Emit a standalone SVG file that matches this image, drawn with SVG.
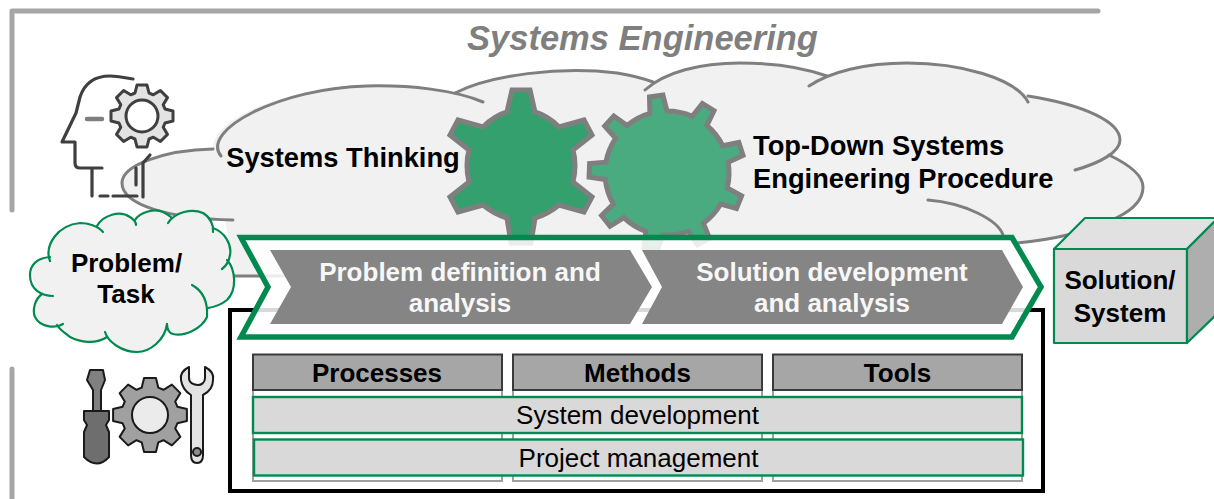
<svg xmlns="http://www.w3.org/2000/svg" xmlns:xlink="http://www.w3.org/1999/xlink" width="1214" height="499" viewBox="0 0 1214 499">
<style>
.t{font-family:"Liberation Sans",Arial,sans-serif;text-anchor:middle}
.b{font-weight:700;fill:#000;font-size:26px}
.l{font-weight:700;fill:#000;font-size:27.3px}
.w{font-weight:700;fill:#f7f7f7;font-size:26px}
.n{fill:#000;font-size:26px}
.lob{fill:none;stroke:#7f7f7f;stroke-width:3;stroke-linecap:round}
.cl{fill:none;stroke:#008a50;stroke-width:2.2;stroke-linecap:round}
.hd{fill:#a6a6a6;stroke:#3a3a3a;stroke-width:2}
.col{fill:#fff;stroke:#a0a0a0;stroke-width:2}
.row{fill:#d9d9d9;stroke:#008a50;stroke-width:2.4}
.ic{fill:none;stroke:#3f3f3f;stroke-width:3.2;stroke-linecap:round;stroke-linejoin:round}
.to{stroke:#1a1a1a;stroke-width:2;stroke-linejoin:round}
.cube{stroke:#008a50;stroke-width:2.2;stroke-linejoin:round}
</style>
<defs>
<path id="cog" d="M-7-23L-5-31H5L7-23L11.3-21.2L18.4-25.5L25.5-18.4L21.2-11.3L23-7L31-5V5L23 7L21.2 11.3L25.5 18.4L18.4 25.5L11.3 21.2L7 23L5 31H-5L-7 23L-11.3 21.2L-18.4 25.5L-25.5 18.4L-21.2 11.3L-23 7L-31 5V-5L-23-7L-21.2-11.3L-25.5-18.4L-18.4-25.5L-11.3-21.2Z"/>
</defs>
<g id="frame"><path d="M1098 11H12V210M12 369V499" fill="none" stroke="#a6a6a6" stroke-width="5" stroke-linecap="round" stroke-linejoin="round"/></g>
<text class="t" x="642.500" y="50" font-size="34.500" font-weight="700" font-style="italic" fill="#7f7f7f">Systems Engineering</text>
<g id="big-cloud">
<path d="M122 183C122 165 165 150 213 149C212 120 280 88 367 86C400 85 430 88 455 93C490 75 560 66 617 73C630 75 642 78 653 82C675 68 710 62 740 63C775 63 805 68 827 76C855 66 880 63 907 63C960 63 1005 75 1028 96C1085 105 1120 122 1120 140C1120 146 1116 151 1109 155C1130 165 1143 175 1143 187C1143 200 1132 210 1118 217C1090 232 1050 240 1017 243L1000 276H235L225 220C170 218 122 205 122 183Z" fill="#f1f1f1"/>
<path class="lob" d="M233 220C170 219 122 205 122 183C122 165 165 150 213 149"/>
<path class="lob" d="M221 156C200 130 280 88 367 86C410 85 455 90 483 102"/>
<path class="lob" d="M455 93C490 75 560 66 617 73C630 75 642 78 653 82"/>
<path class="lob" d="M645 90C665 72 700 63 740 63C775 63 805 68 827 76"/>
<path class="lob" d="M809 86C830 72 865 63 907 63C960 63 1015 78 1028 102"/>
<path class="lob" d="M1028 96C1085 105 1120 122 1120 140C1120 152 1100 163 1075 170"/>
<path class="lob" d="M1109 155C1130 165 1143 175 1143 187C1143 200 1132 210 1118 217C1090 232 1050 240 1017 243"/>
<path class="lob" d="M928 200C965 203 998 220 1003 235"/>
<path class="lob" d="M233 276H290"/>
</g>
<g id="gear-1"><path d="M512 90H530L535 112Q548 116 559 127L584 120L592 135L573 150Q577 165 573 182L592 197L584 212L559 205Q548 214 535 218L531 243H511L507 218Q494 214 483 205L458 212L450 197L469 182Q465 165 469 150L450 135L458 120L483 127Q494 116 507 112Z" fill="#33a06e" stroke="#7f7f7f" stroke-width="5" stroke-linejoin="miter"/></g>
<g id="gear-2"><path d="M722.700 145.800L738.800 142.500L743 155.500L728.100 162.200A62 62 0 0 1 727.200 188L741.600 195.800L736.500 208.400L720.700 204A62 62 0 0 1 703.400 223.200L709.500 238.400L697.500 244.800L688.200 231.300A62 62 0 0 1 662.700 234.900L657.500 250.400L644.200 247.600L645.800 231.300A62 62 0 0 1 623.900 217.600L610 226.200L601.600 215.500L613.300 204A62 62 0 0 1 605.300 179.500L589.100 177.100L589.600 163.500L605.900 162.200A62 62 0 0 1 615.600 138.300L604.700 126L613.800 116L627.100 125.500A62 62 0 0 1 649.900 113.400L649.500 97L662.900 95.100L667 111A62 62 0 0 1 692.200 116.300L702.400 103.500L714 110.700L706.900 125.500A62 62 0 0 1 722.700 145.800Z" fill="#4aab80" stroke="#7f7f7f" stroke-width="5"/></g>
<text class="t l" x="343" y="167">Systems Thinking</text>
<text class="t l" x="753" y="155" style="text-anchor:start">Top-Down Systems</text>
<text class="t l" x="753" y="188" style="text-anchor:start">Engineering Procedure</text>
<g id="box"><rect x="230" y="310" width="813" height="181" fill="#fff" stroke="#000" stroke-width="4"/></g>
<g id="chevron"><path d="M241 237.500H1012L1041 287L1012 337H241L268 287Z" fill="#fff" fill-opacity=".85" stroke="#008a50" stroke-width="5.500"/>
<path d="M270 250H630L652 287L630 324H270L291 287Z" fill="#858585"/>
<path d="M642 250H1002L1023 287L1002 324H642L662 287Z" fill="#858585"/></g>
<text class="t w" x="460" y="281">Problem definition and</text>
<text class="t w" x="460" y="312">analysis</text>
<text class="t w" x="832" y="281">Solution development</text>
<text class="t w" x="832" y="312">and analysis</text>
<g id="table">
<rect class="col" x="253" y="390" width="249" height="91"/><rect class="col" x="513" y="390" width="249" height="91"/><rect class="col" x="773" y="390" width="249" height="91"/>
<rect class="hd" x="253" y="354.500" width="249" height="35.500"/><rect class="hd" x="513" y="354.500" width="249" height="35.500"/><rect class="hd" x="773" y="354.500" width="249" height="35.500"/>
<rect class="row" x="253" y="397" width="769" height="36"/><rect class="row" x="254" y="439.500" width="769" height="36"/>
<text class="t b" x="377" y="382">Processes</text><text class="t b" x="637.500" y="382">Methods</text><text class="t b" x="897.500" y="382">Tools</text>
<text class="t n" x="637.500" y="424">System development</text><text class="t n" x="638.500" y="467">Project management</text>
</g>
<g id="problem"><path d="M42 294C30 285 30 265 37 260C40 257 45 256 50 257C46 240 60 225 80 223C88 223 92 224 97 226C103 215 120 212 130 217L135 220C140 212 155 208 163 212L172 218C175 212 190 208 203 213C210 217 213 224 213 228C225 232 232 245 230 260C236 270 236 290 227 300C222 304 215 307 208 308C207 320 195 333 173 334L166 331C165 340 150 352 137 352C125 352 112 345 107 337C95 345 80 342 70 337C65 333 60 330 57 325C50 328 38 325 35 317C32 310 35 300 42 294Z" fill="#f1f1f1"/>
<path class="cl" d="M53 296C42 296 30 290 30 275C30 265 37 258 50 257"/>
<path class="cl" d="M50 261C44 245 58 225 80 223C88 223 98 226 103 232"/>
<path class="cl" d="M97 226C103 215 120 210 130 217C133 219 136 222 136 225"/>
<path class="cl" d="M135 220C140 212 155 208 163 212C167 214 170 216 172 218"/>
<path class="cl" d="M168 223C175 212 192 208 203 213C210 217 214 225 213 232"/>
<path class="cl" d="M213 228C225 232 232 245 230 255C229 262 226 266 222 269"/>
<path class="cl" d="M227 260C236 270 237 290 227 300C222 304 215 307 208 308"/>
<path class="cl" d="M192 285C203 291 208 302 207 317C202 328 185 337 173 334C169 333 167 330 167 324"/>
<path class="cl" d="M167 324C165 340 150 352 137 352C122 352 108 342 105 332"/>
<path class="cl" d="M107 337C95 345 80 342 70 337C65 333 60 330 57 325"/>
<path class="cl" d="M63 324C55 329 40 327 35 317C32 310 35 299 42 294"/></g>
<text class="t b" x="126.500" y="272">Problem/</text><text class="t b" x="126" y="303">Task</text>
<g id="solution"><path class="cube" d="M1054 249H1187V343H1054Z" fill="#d9d9d9"/>
<path class="cube" d="M1054 249L1085 218H1218L1187 249Z" fill="#e1e1e1"/>
<path class="cube" d="M1187 249L1218 218V313L1187 343Z" fill="#aeaeae"/></g>
<text class="t b" x="1120" y="289">Solution/</text><text class="t b" x="1120" y="322">System</text>
<g id="head-icon">
<path class="ic" d="M133 79C122 77 115 76 110 76C92 76 84 85 80 97L76 113L62 142H75V163Q75 168 80 168H102M92 168V196M100 196H108M113 196H137M136 168V185M143 197V163L150 155"/>
<path class="ic" d="M87 119H102" style="stroke:#7f7f7f;stroke-width:4.5"/>
<use xlink:href="#cog" href="#cog" transform="translate(142 116)" fill="#e3e3e3" stroke="#3f3f3f" stroke-width="3" stroke-linejoin="round"/>
<circle cx="142" cy="116" r="16" fill="#fff" stroke="#3f3f3f" stroke-width="3"/>
</g>
<g id="tools-icon">
<path class="to" d="M90 370H103L105 380L101 390V411H93V390L87 380Z" fill="#808080"/>
<path class="to" d="M84 411H109V420L106 425L109 432V457Q97 470 84 457V432L87 425L84 420Z" fill="#6e6e6e"/>
<use xlink:href="#cog" href="#cog" transform="translate(150 415) scale(1.19)" fill="#a0a0a0" stroke="#1a1a1a" stroke-width="1.700" stroke-linejoin="round"/>
<circle cx="150" cy="415" r="18" fill="#ebebeb" stroke="#1a1a1a" stroke-width="2"/>
<path class="to" d="M189 367C183 370 180 375 181 380C182 387 186 392 191 395V455Q191 463 197 463Q203 463 203 455V395C209 392 213 387 213 380C214 375 211 370 205 367V378C205 383 201 385 198 385C194 385 189 383 189 378Z" fill="#e3e3e3"/>
<circle cx="197" cy="452" r="4" fill="#8c8c8c" stroke="#1a1a1a" stroke-width="2"/>
</g>
</svg>
